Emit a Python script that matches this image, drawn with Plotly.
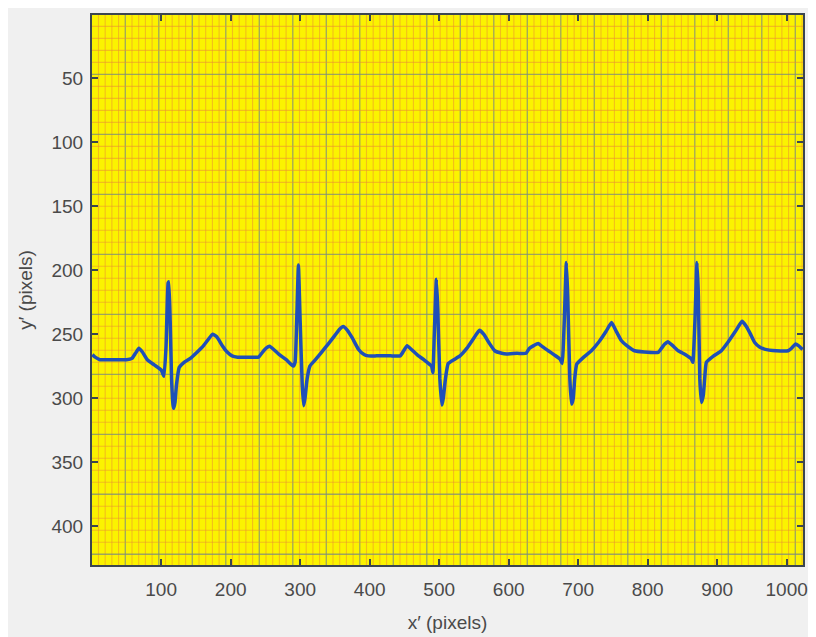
import numpy as np
import plotly.graph_objects as go

# ECG trace (x' and y' in pixels)
ecg_x = [1, 5, 12, 30, 50, 58, 63, 68, 73, 80, 90, 100, 104, 107, 110, 111, 113, 115, 117, 118, 120, 122, 126, 133,
         142, 152, 161, 168, 174, 180, 188, 195, 202, 210, 230, 240,
         246, 251, 256, 262, 270, 280, 290, 292.7, 295, 297.5, 300, 303, 305, 307, 310, 314, 322, 331, 340, 350, 357,
         362, 368, 375, 384, 392, 398, 410, 422,
         430, 444, 449, 454, 460, 468, 478, 489, 491, 493, 496, 498, 501, 504, 506, 509, 513, 521, 530, 540, 550, 558,
         564, 572, 580, 590, 597, 612, 625,
         630, 636, 642.5, 649, 657, 665, 674, 677, 680, 683, 685, 688, 690.5, 693, 695, 698, 708, 719, 730, 740, 748,
         755, 762, 770, 781, 795, 815,
         820, 824.6, 829, 836, 844, 854, 863, 865, 868, 871, 873, 875, 877.4, 880, 882, 884.5, 895, 906, 916, 926,
         935.8, 942, 948, 954, 961, 968, 985, 1002, 1007, 1012.5, 1017, 1021, 1023]
ecg_y = [266, 268, 270, 270, 270, 269, 265, 261, 264, 270, 274, 278, 283, 260, 210, 209, 240, 285, 305, 308, 303, 290,
         276, 272,
         269, 264, 259, 254, 250, 252, 259, 264, 267, 268, 268, 268,
         264, 261, 259.5, 262, 266, 270, 275, 272, 240, 196, 240, 290, 306, 300, 285, 275, 270, 264, 258, 251, 246,
         244, 247, 253, 262, 266, 267, 267, 267,
         267, 267, 263, 259, 262, 266, 270, 275, 280, 250, 207, 230, 285, 305.5, 300, 285, 273, 270, 267, 261, 253,
         247, 250, 257, 263, 265, 265.6, 265, 265,
         261, 259, 257.3, 260, 263, 266, 269.5, 273, 240, 194, 220, 285, 304.7, 300, 285, 273.4, 268, 263, 256, 248,
         241, 248, 255, 259, 263, 264, 264.3,
         261, 257.8, 256, 259, 263, 266, 269.5, 272, 240, 194, 220, 285, 303.4, 298, 285, 272, 267, 263, 256, 248,
         240, 244, 250, 256.5, 260, 261.7, 263, 263, 261, 257.8, 259, 261, 262]

x_ticks = [100, 200, 300, 400, 500, 600, 700, 800, 900, 1000]
y_ticks = [50, 100, 150, 200, 250, 300, 350, 400]

x_range = [0.5, 1023.5]
y_range = [430.5, 0.5]

# ECG paper grid (big squares / small squares) in image pixels
gx0, gx_major = 48.4, 48.2
gy0, gy_major = 46.9, 46.9

fig = go.Figure()

shapes = []
minor_col = "rgba(235,145,50,0.55)"
major_col = "rgba(125,140,125,0.75)"

start = gx0 - gx_major
for i in range(0, 130):
    xv = start + i * gx_major / 5
    if xv < x_range[0] or xv > x_range[1]:
        continue
    is_major = (i % 5 == 0)
    shapes.append(dict(type="line", xref="x", yref="paper", x0=xv, x1=xv, y0=0, y1=1, layer="below",
                       line=dict(color=major_col if is_major else minor_col, width=1.3 if is_major else 1.1)))
starty = gy0 - gy_major
for i in range(0, 60):
    yv = starty + i * gy_major / 5
    if yv < 0.5 or yv > 430.5:
        continue
    is_major = (i % 5 == 0)
    shapes.append(dict(type="line", xref="paper", yref="y", x0=0, x1=1, y0=yv, y1=yv, layer="below",
                       line=dict(color=major_col if is_major else minor_col, width=1.3 if is_major else 1.1)))

fig.add_trace(go.Scatter(x=ecg_x, y=ecg_y, mode="lines",
                         line=dict(color="#1f4fb8", width=3.5, shape="spline", smoothing=0.4),
                         showlegend=False, hoverinfo="skip"))

axis_font = dict(family="Liberation Sans, Arial, sans-serif", size=19, color="#4a4a4a")

# page body has an 8px margin: the white border of the screenshot
fig.update_layout(
    width=808, height=629,
    margin=dict(l=84, r=13, t=7, b=72),
    paper_bgcolor="#f0f0f0",
    plot_bgcolor="#fbf300",
    shapes=shapes,
    font=axis_font,
)
fig.update_xaxes(range=x_range, tickvals=x_ticks, ticks="inside", ticklen=6, tickwidth=1.5, tickcolor="#3c4650",
                 showline=True, linecolor="#3c4650", linewidth=2, mirror="ticks", showgrid=False, zeroline=False,
                 tickfont=axis_font, ticklabelstandoff=6,
                 title=dict(text="x\u2032 (pixels)", font=axis_font, standoff=17), automargin=False)
fig.update_yaxes(range=y_range, tickvals=y_ticks, ticks="inside", ticklen=6, tickwidth=1.5, tickcolor="#3c4650",
                 showline=True, linecolor="#3c4650", linewidth=2, mirror="ticks", showgrid=False, zeroline=False,
                 tickfont=axis_font, ticklabelstandoff=3,
                 title=dict(text="y\u2032 (pixels)", font=axis_font, standoff=14), automargin=False)

fig.write_html("out.html")
